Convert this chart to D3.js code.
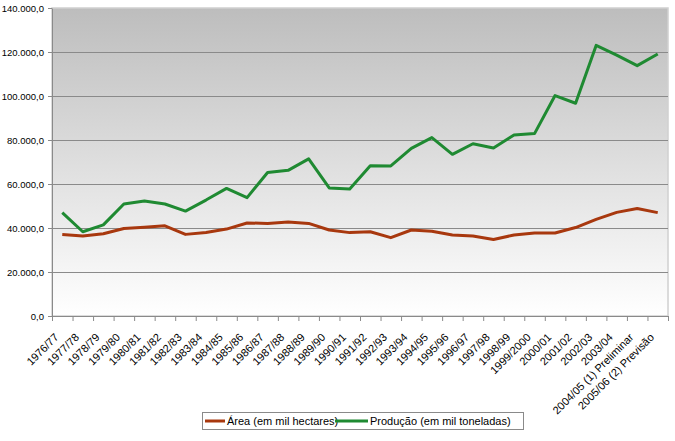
<!DOCTYPE html>
<html>
<head>
<meta charset="utf-8">
<script src="https://cdn.jsdelivr.net/npm/d3@7"></script>
<style>
  body { margin: 0; background: #fff; }
  svg { display: block; font-family: "Liberation Sans", Arial, sans-serif; }
</style>
</head>
<body>
<div id="chart"></div>
<script>
// categories (safras)
const safras = ["1976/77", "1977/78", "1978/79", "1979/80", "1980/81", "1981/82", "1982/83",
  "1983/84", "1984/85", "1985/86", "1986/87", "1987/88", "1988/89", "1989/90", "1990/91",
  "1991/92", "1992/93", "1993/94", "1994/95", "1995/96", "1996/97", "1997/98", "1998/99",
  "1999/2000", "2000/01", "2001/02", "2002/03", "2003/04", "2004/05 (1) Preliminar",
  "2005/06 (2) Previsão"];

// area (em mil hectares)
const area = [37100, 36400, 37400, 39800, 40300, 41000, 37100, 38000, 39500, 42300,
  42100, 42700, 42100, 39100, 37900, 38300, 35600, 39100, 38500, 36800,
  36400, 34800, 36800, 37700, 37700, 40200, 43900, 47100, 48900, 47000];

// producao (em mil toneladas)
const producao = [47000, 38300, 41400, 50900, 52300, 50900, 47700, 52700, 58000, 53800,
  65200, 66200, 71400, 58200, 57700, 68300, 68200, 76200, 81100, 73500,
  78300, 76400, 82300, 82900, 100200, 96700, 123000, 118600, 113800, 119100];

const yTicks = [0, 20000, 40000, 60000, 80000, 100000, 120000, 140000];

const series = [
  {name: "Área (em mil hectares)", values: area, color: "#a8380e"},
  {name: "Produção (em mil toneladas)", values: producao, color: "#1f8a32"}
];

// layout
const W = 675, H = 441;
const margin = {top: 8, right: 7, bottom: 125, left: 52};
const width = W - margin.left - margin.right;
const height = H - margin.top - margin.bottom;

const ptBR = d3.formatLocale({decimal: ",", thousands: ".", grouping: [3], currency: ["R$", ""]});
const fmt = ptBR.format(",.1f");

const svg = d3.select("#chart").append("svg")
  .attr("width", W).attr("height", H);

// background gradient
const grad = svg.append("defs").append("linearGradient")
  .attr("id", "bg").attr("x1", 0).attr("y1", 0).attr("x2", 0).attr("y2", 1);
grad.append("stop").attr("offset", "0%").attr("stop-color", "#bdbdbd");
grad.append("stop").attr("offset", "100%").attr("stop-color", "#ffffff");

const g = svg.append("g")
  .attr("transform", "translate(" + margin.left + "," + margin.top + ")");

g.append("rect")
  .attr("width", width).attr("height", height)
  .attr("fill", "url(#bg)")
  .attr("stroke", "#d0d0d0").attr("stroke-width", 1.5);

const x = d3.scaleBand().domain(safras).range([0, width]);
const y = d3.scaleLinear().domain([0, 140000]).range([height, 0]);

// gridlines
g.append("g").selectAll("line")
  .data(yTicks.filter(d => d > 0 && d < 140000))
  .join("line")
    .attr("x1", 0).attr("x2", width)
    .attr("y1", d => y(d) + 0.5).attr("y2", d => y(d) + 0.5)
    .attr("stroke", "#8a8a8a").attr("stroke-width", 1);

// y axis
const yAxis = g.append("g")
  .call(d3.axisLeft(y).tickValues(yTicks).tickFormat(fmt).tickSize(4).tickSizeOuter(0));
yAxis.select(".domain").attr("stroke", "#8a8a8a");
yAxis.selectAll(".tick line").attr("stroke", "#8a8a8a");
yAxis.selectAll("text").attr("font-size", "9.5px").attr("fill", "#000")
  .attr("font-family", "Liberation Sans, Arial, sans-serif").attr("dx", "-1");

// x axis: ticks on band boundaries
const xAxis = g.append("g").attr("transform", "translate(0," + height + ")");
xAxis.append("line").attr("x1", 0).attr("x2", width).attr("y1", 0.5).attr("y2", 0.5)
  .attr("stroke", "#8a8a8a");
xAxis.selectAll(".bt").data(d3.range(safras.length + 1)).join("line")
  .attr("class", "bt")
  .attr("x1", i => i * x.step() + 0.5).attr("x2", i => i * x.step() + 0.5)
  .attr("y1", 0).attr("y2", 5)
  .attr("stroke", "#8a8a8a");
xAxis.selectAll("text").data(safras).join("text")
  .attr("transform", d => "translate(" + (x(d) + x.bandwidth() / 2 - 3) + ",22) rotate(-45)")
  .attr("text-anchor", "end")
  .attr("font-size", "11px")
  .attr("fill", "#000")
  .text(d => d);

// lines
const line = d3.line()
  .x((d, i) => x(safras[i]) + x.bandwidth() / 2)
  .y(d => y(d));

g.selectAll(".serie").data(series).join("path")
  .attr("class", "serie")
  .attr("d", d => line(d.values))
  .attr("fill", "none")
  .attr("stroke", d => d.color)
  .attr("stroke-width", 3)
  .attr("stroke-linejoin", "round");

// legend
const leg = svg.append("g").attr("transform", "translate(202,412)");
leg.append("rect").attr("x", 0.5).attr("y", 0.5).attr("width", 321).attr("height", 17)
  .attr("fill", "#fff").attr("stroke", "#8a8a8a");
const items = [{dx: 3, len: 20}, {dx: 133, len: 33}];
series.forEach((s, i) => {
  const it = leg.append("g").attr("transform", "translate(" + items[i].dx + ",0)");
  it.append("line").attr("x1", 0).attr("x2", items[i].len).attr("y1", 9).attr("y2", 9)
    .attr("stroke", s.color).attr("stroke-width", 3);
  it.append("text").attr("x", items[i].len + 2).attr("y", 13)
    .attr("font-size", "11px").attr("fill", "#000").text(s.name);
});
</script>
</body>
</html>
